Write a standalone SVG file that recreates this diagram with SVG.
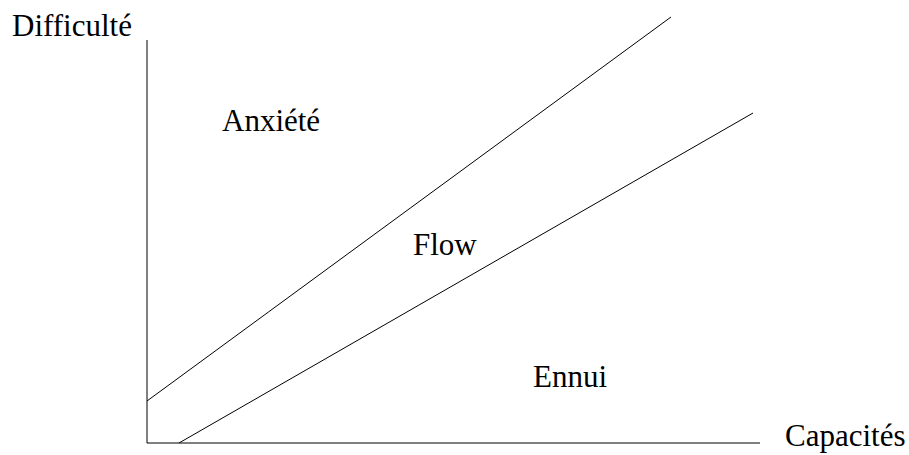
<svg xmlns="http://www.w3.org/2000/svg" width="909" height="455" viewBox="0 0 909 455">
<style>
.t{font-family:"Liberation Serif","Times New Roman",serif;font-size:31px;fill:#000}
.ax{stroke:#000;stroke-width:1;fill:none}
.ln{stroke:#000;stroke-width:1;fill:none}
</style>
<rect width="909" height="455" fill="#fff"/>
<g id="connectors">
<line class="ax" x1="147" y1="40" x2="147" y2="443"/>
<line class="ax" x1="147" y1="443" x2="760" y2="443"/>
<line class="ln" x1="147" y1="401" x2="671" y2="17"/>
<line class="ln" x1="179" y1="443" x2="753" y2="113"/>
</g>
<g id="difficulte"><text class="t" x="12" y="36">Difficulté</text></g>
<g id="capacites"><text class="t" x="785" y="446">Capacités</text></g>
<g id="anxiete"><text class="t" x="222" y="131">Anxiété</text></g>
<g id="flow"><text class="t" x="413" y="255">Flow</text></g>
<g id="ennui"><text class="t" x="533" y="387">Ennui</text></g>
</svg>
